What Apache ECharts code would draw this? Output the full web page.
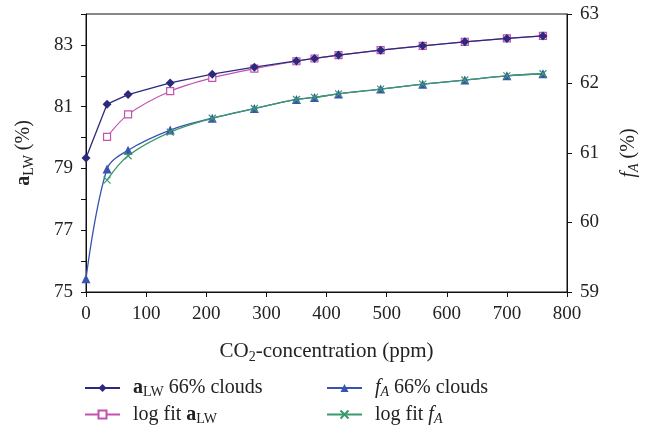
<!DOCTYPE html>
<html>
<head>
<meta charset="utf-8">
<script src="https://cdn.jsdelivr.net/npm/echarts@6/dist/echarts.min.js"></script>
<style>
  html, body { margin: 0; padding: 0; background: #fff; }
  #myChart { width: 649px; height: 430px; }
</style>
</head>
<body>
<div id="myChart"></div>
<script>
// CO2 concentration (ppm)
var co2 = [0, 35, 70, 140, 210, 280, 350, 380, 420, 490, 560, 630, 700, 760];

// aLW 66% clouds (left axis, %)
var aLW = [79.34, 81.08, 81.39, 81.77, 82.05, 82.28, 82.48, 82.56, 82.67, 82.83, 82.97, 83.10, 83.21, 83.29];
// log fit aLW (starts at 35 ppm)
var aLWFit = [null, 80.02, 80.75, 81.50, 81.93, 82.23, 82.47, 82.56, 82.67, 82.83, 82.97, 83.10, 83.21, 83.29];

// fA 66% clouds (right axis, %)
var fA = [59.19, 60.77, 61.04, 61.33, 61.50, 61.64, 61.77, 61.80, 61.85, 61.92, 61.99, 62.05, 62.11, 62.14];
// log fit fA
var fAFit = [null, 60.61, 60.96, 61.30, 61.50, 61.64, 61.77, 61.80, 61.85, 61.92, 61.99, 62.05, 62.11, 62.14];

var leftTicks = [75, 77, 79, 81, 83];

function pairs(ys) {
    var out = [];
    for (var i = 0; i < co2.length; i++) {
        if (ys[i] != null) out.push([co2[i], ys[i]]);
    }
    return out;
}

var FONT = '"Liberation Serif", "DejaVu Serif", serif';
var navy = '#2b2a7e', magenta = '#c451b0', blue = '#3854b0', green = '#3b9a6c';

// rich text styles, sz = main size, ss = subscript size
function rich(sz, ss, dy) {
    return {
        sp: { width: 8 },
        b: { fontFamily: FONT, fontSize: sz, fontWeight: 'bold', color: '#222' },
        i: { fontFamily: FONT, fontSize: sz, fontStyle: 'italic', color: '#222' },
        t: { fontFamily: FONT, fontSize: sz, color: '#222' },
        sub: { fontFamily: FONT, fontSize: ss, color: '#222', padding: [dy, 0, 0, 0] },
        subi: { fontFamily: FONT, fontSize: ss, fontStyle: 'italic', color: '#222', padding: [dy, 0, 0, 0] }
    };
}

var legendNames = {
    'aLW 66% clouds': '{sp|}{b|a}{sub|LW}{t| 66% clouds}',
    'log fit aLW': '{sp|}{t|log fit }{b|a}{sub|LW}',
    'fA 66% clouds': '{sp|}{i|f}{subi|A}{t| 66% clouds}',
    'log fit fA': '{sp|}{t|log fit }{i|f}{subi|A}'
};

var dom = document.getElementById('myChart');
var myChart = echarts.init(dom);

var option = {
    animation: false,
    backgroundColor: '#fff',
    grid: {
        left: 86,
        right: 81,
        top: 14,
        bottom: 138,
        show: true,
        borderColor: '#111',
        borderWidth: 1
    },
    legend: [{
        left: 84,
        top: 378,
        height: 70,
        orient: 'vertical',
        padding: 0,
        itemGap: 5,
        itemWidth: 35,
        itemHeight: 10,
        data: ['aLW 66% clouds', 'log fit aLW'],
        formatter: function (n) { return legendNames[n]; },
        textStyle: { rich: rich(20, 14, 9) }
    }, {
        left: 326,
        top: 378,
        height: 70,
        orient: 'vertical',
        padding: 0,
        itemGap: 5,
        itemWidth: 35,
        itemHeight: 10,
        data: ['fA 66% clouds', 'log fit fA'],
        formatter: function (n) { return legendNames[n]; },
        textStyle: { rich: rich(20, 14, 9) }
    }],
    xAxis: {
        type: 'value',
        min: 0,
        max: 800,
        interval: 100,
        name: '{t|CO}{sub|2}{t|-concentration (ppm)}',
        nameLocation: 'middle',
        nameGap: 47,
        nameTextStyle: { rich: rich(21, 14, 11) },
        axisLine: { show: true, lineStyle: { color: '#111' } },
        axisTick: { show: true, inside: false, length: 5, lineStyle: { color: '#111' } },
        splitLine: { show: false },
        axisLabel: { fontFamily: FONT, fontSize: 19, color: '#222', margin: 13 }
    },
    yAxis: [{
        type: 'value',
        position: 'left',
        min: 75,
        max: 84,
        interval: 1,
        name: '{b|a}{sub|LW}{t| (%)}',
        nameLocation: 'middle',
        nameRotate: 90,
        nameGap: 50,
        nameTextStyle: { rich: rich(20, 14, 10) },
        axisLine: { show: true, lineStyle: { color: '#111' } },
        axisTick: { show: true, length: 5, lineStyle: { color: '#111' } },
        splitLine: { show: false },
        axisLabel: {
            fontFamily: FONT, fontSize: 19, color: '#222', margin: 13,
            formatter: function (v) { return leftTicks.indexOf(v) > -1 ? String(v) : ''; }
        }
    }, {
        type: 'value',
        position: 'right',
        min: 59,
        max: 63,
        interval: 1,
        name: '{i|f}{subi|A}{t| (%)}',
        nameLocation: 'middle',
        nameRotate: 90,
        nameGap: 50,
        nameTextStyle: { rich: rich(20, 14, 10) },
        axisLine: { show: true, lineStyle: { color: '#111' } },
        axisTick: { show: true, length: 5, lineStyle: { color: '#111' } },
        splitLine: { show: false },
        axisLabel: { fontFamily: FONT, fontSize: 19, color: '#222', margin: 13 }
    }],
    series: [{
        name: 'fA 66% clouds',
        type: 'line',
        yAxisIndex: 1,
        smooth: 0.35,
        symbol: 'triangle',
        symbolSize: 9,
        itemStyle: { color: blue },
        lineStyle: { color: blue, width: 1.3 },
        data: pairs(fA)
    }, {
        name: 'log fit fA',
        type: 'line',
        yAxisIndex: 1,
        smooth: 0.35,
        symbol: 'path://M0,0L10,10M10,0L0,10',
        symbolSize: 7,
        itemStyle: { color: green, borderColor: green, borderWidth: 1.2 },
        lineStyle: { color: green, width: 1.3 },
        data: pairs(fAFit)
    }, {
        name: 'log fit aLW',
        type: 'line',
        yAxisIndex: 0,
        smooth: 0.3,
        symbol: 'rect',
        symbolSize: 7,
        itemStyle: { color: '#fff', borderColor: magenta, borderWidth: 1.2 },
        lineStyle: { color: magenta, width: 1.2 },
        data: pairs(aLWFit)
    }, {
        name: 'aLW 66% clouds',
        type: 'line',
        yAxisIndex: 0,
        smooth: false,
        symbol: 'diamond',
        symbolSize: 9,
        itemStyle: { color: navy },
        lineStyle: { color: navy, width: 1.3 },
        data: pairs(aLW)
    }]
};
myChart.setOption(option, true);
</script>
</body>
</html>
